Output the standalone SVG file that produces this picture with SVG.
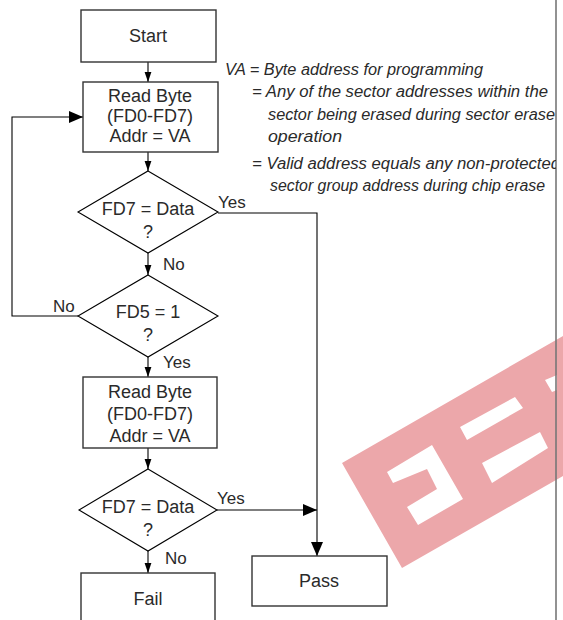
<svg xmlns="http://www.w3.org/2000/svg" width="563" height="620" viewBox="0 0 563 620">
<defs>
<style>
.box{fill:#fff;stroke:#333;stroke-width:1.4}
.dia{fill:#fff;stroke:#000;stroke-width:1.1}
.t{font-family:"Liberation Sans",Arial,sans-serif;font-size:18px;fill:#2a2a2a;text-anchor:middle}
.lbl{font-family:"Liberation Sans",Arial,sans-serif;font-size:17px;fill:#2a2a2a}
.note{font-family:"Liberation Sans",Arial,sans-serif;font-style:italic;font-size:16px;fill:#2a2a2a}
.c{fill:none;stroke:#000;stroke-width:1.1}
</style>
<marker id="sa" markerUnits="userSpaceOnUse" markerWidth="10" markerHeight="8" refX="10" refY="4" orient="auto"><path d="M0,0.6 L10,4 L0,7.4 Z" fill="#000"/></marker>
<marker id="ba" markerUnits="userSpaceOnUse" markerWidth="14" markerHeight="13" refX="14" refY="6.5" orient="auto"><path d="M0,0.5 L14,6.5 L0,12.5 Z" fill="#000"/></marker>
<clipPath id="nc"><rect x="0" y="0" width="556" height="620"/></clipPath>
</defs>
<rect width="563" height="620" fill="#fff"/>
<g id="watermark">
<path fill="#eca7aa" fill-rule="evenodd" d="M342,463 L563,336 L563,476 L402,568 Z M460,427 L515,397 L523,408 L467,440 Z M482,463 L540,432 L548,448 L492,483 Z M545,380 L557,375 L557,390 L552,392 Z M387,472 L432,445 L463,499 L418,525 L407,507 L437,489 L427,469 L393,483 Z"/>
</g>
<line x1="556" y1="0" x2="556" y2="620" stroke="#777" stroke-width="1.6"/>
<g id="notes" clip-path="url(#nc)">
<text class="note" x="225" y="75" textLength="258" lengthAdjust="spacingAndGlyphs">VA = Byte address for programming</text>
<text class="note" x="252" y="97" textLength="296" lengthAdjust="spacingAndGlyphs">= Any of the sector addresses within the</text>
<text class="note" x="268" y="120" textLength="287" lengthAdjust="spacingAndGlyphs">sector being erased during sector erase</text>
<text class="note" x="268" y="142" textLength="74" lengthAdjust="spacingAndGlyphs">operation</text>
<text class="note" x="252" y="169" textLength="308" lengthAdjust="spacingAndGlyphs">= Valid address equals any non-protected</text>
<text class="note" x="270" y="191" textLength="275" lengthAdjust="spacingAndGlyphs">sector group address during chip erase</text>
</g>
<g id="connectors">
<line class="c" x1="148" y1="62" x2="148" y2="82" marker-end="url(#sa)"/>
<line class="c" x1="148" y1="152" x2="148" y2="171" marker-end="url(#sa)"/>
<line class="c" x1="148" y1="253" x2="148" y2="275" marker-end="url(#sa)"/>
<line class="c" x1="148" y1="357" x2="148" y2="377" marker-end="url(#sa)"/>
<line class="c" x1="148" y1="448" x2="148" y2="469" marker-end="url(#sa)"/>
<line class="c" x1="148" y1="551" x2="148" y2="573" marker-end="url(#sa)"/>
<polyline class="c" points="78,316 12,316 12,117 83,117" marker-end="url(#ba)"/>
<polyline class="c" points="218,213 317,213 317,556" marker-end="url(#ba)"/>
<line class="c" x1="217" y1="510" x2="317" y2="510" marker-end="url(#ba)"/>
<text class="lbl" x="218" y="208">Yes</text>
<text class="lbl" x="163" y="270">No</text>
<text class="lbl" x="53" y="312">No</text>
<text class="lbl" x="163" y="368">Yes</text>
<text class="lbl" x="217" y="504">Yes</text>
<text class="lbl" x="165" y="564">No</text>
</g>
<g id="start"><rect class="box" x="81" y="10" width="135" height="52"/><text class="t" x="148" y="42">Start</text></g>
<g id="read1"><rect class="box" x="83" y="82" width="135" height="70"/><text class="t" x="150" y="102">Read Byte</text><text class="t" x="150" y="122">(FD0-FD7)</text><text class="t" x="150" y="142">Addr = VA</text></g>
<g id="check1"><polygon class="dia" points="148,171 218,212 148,253 78,212"/><text class="t" x="148" y="215">FD7 = Data</text><text class="t" x="148" y="238">?</text></g>
<g id="check5"><polygon class="dia" points="148,275 218,316 148,357 78,316"/><text class="t" x="148" y="318">FD5 = 1</text><text class="t" x="148" y="341">?</text></g>
<g id="read2"><rect class="box" x="83" y="377" width="134" height="71"/><text class="t" x="150" y="398">Read Byte</text><text class="t" x="150" y="420">(FD0-FD7)</text><text class="t" x="150" y="442">Addr = VA</text></g>
<g id="check2"><polygon class="dia" points="148,469 217,510 148,551 79,510"/><text class="t" x="148" y="513">FD7 = Data</text><text class="t" x="148" y="536">?</text></g>
<g id="fail"><rect class="box" x="81" y="573" width="134" height="60"/><text class="t" x="148" y="605">Fail</text></g>
<g id="pass"><rect class="box" x="252" y="556" width="135" height="50"/><text class="t" x="319" y="587">Pass</text></g>
</svg>
